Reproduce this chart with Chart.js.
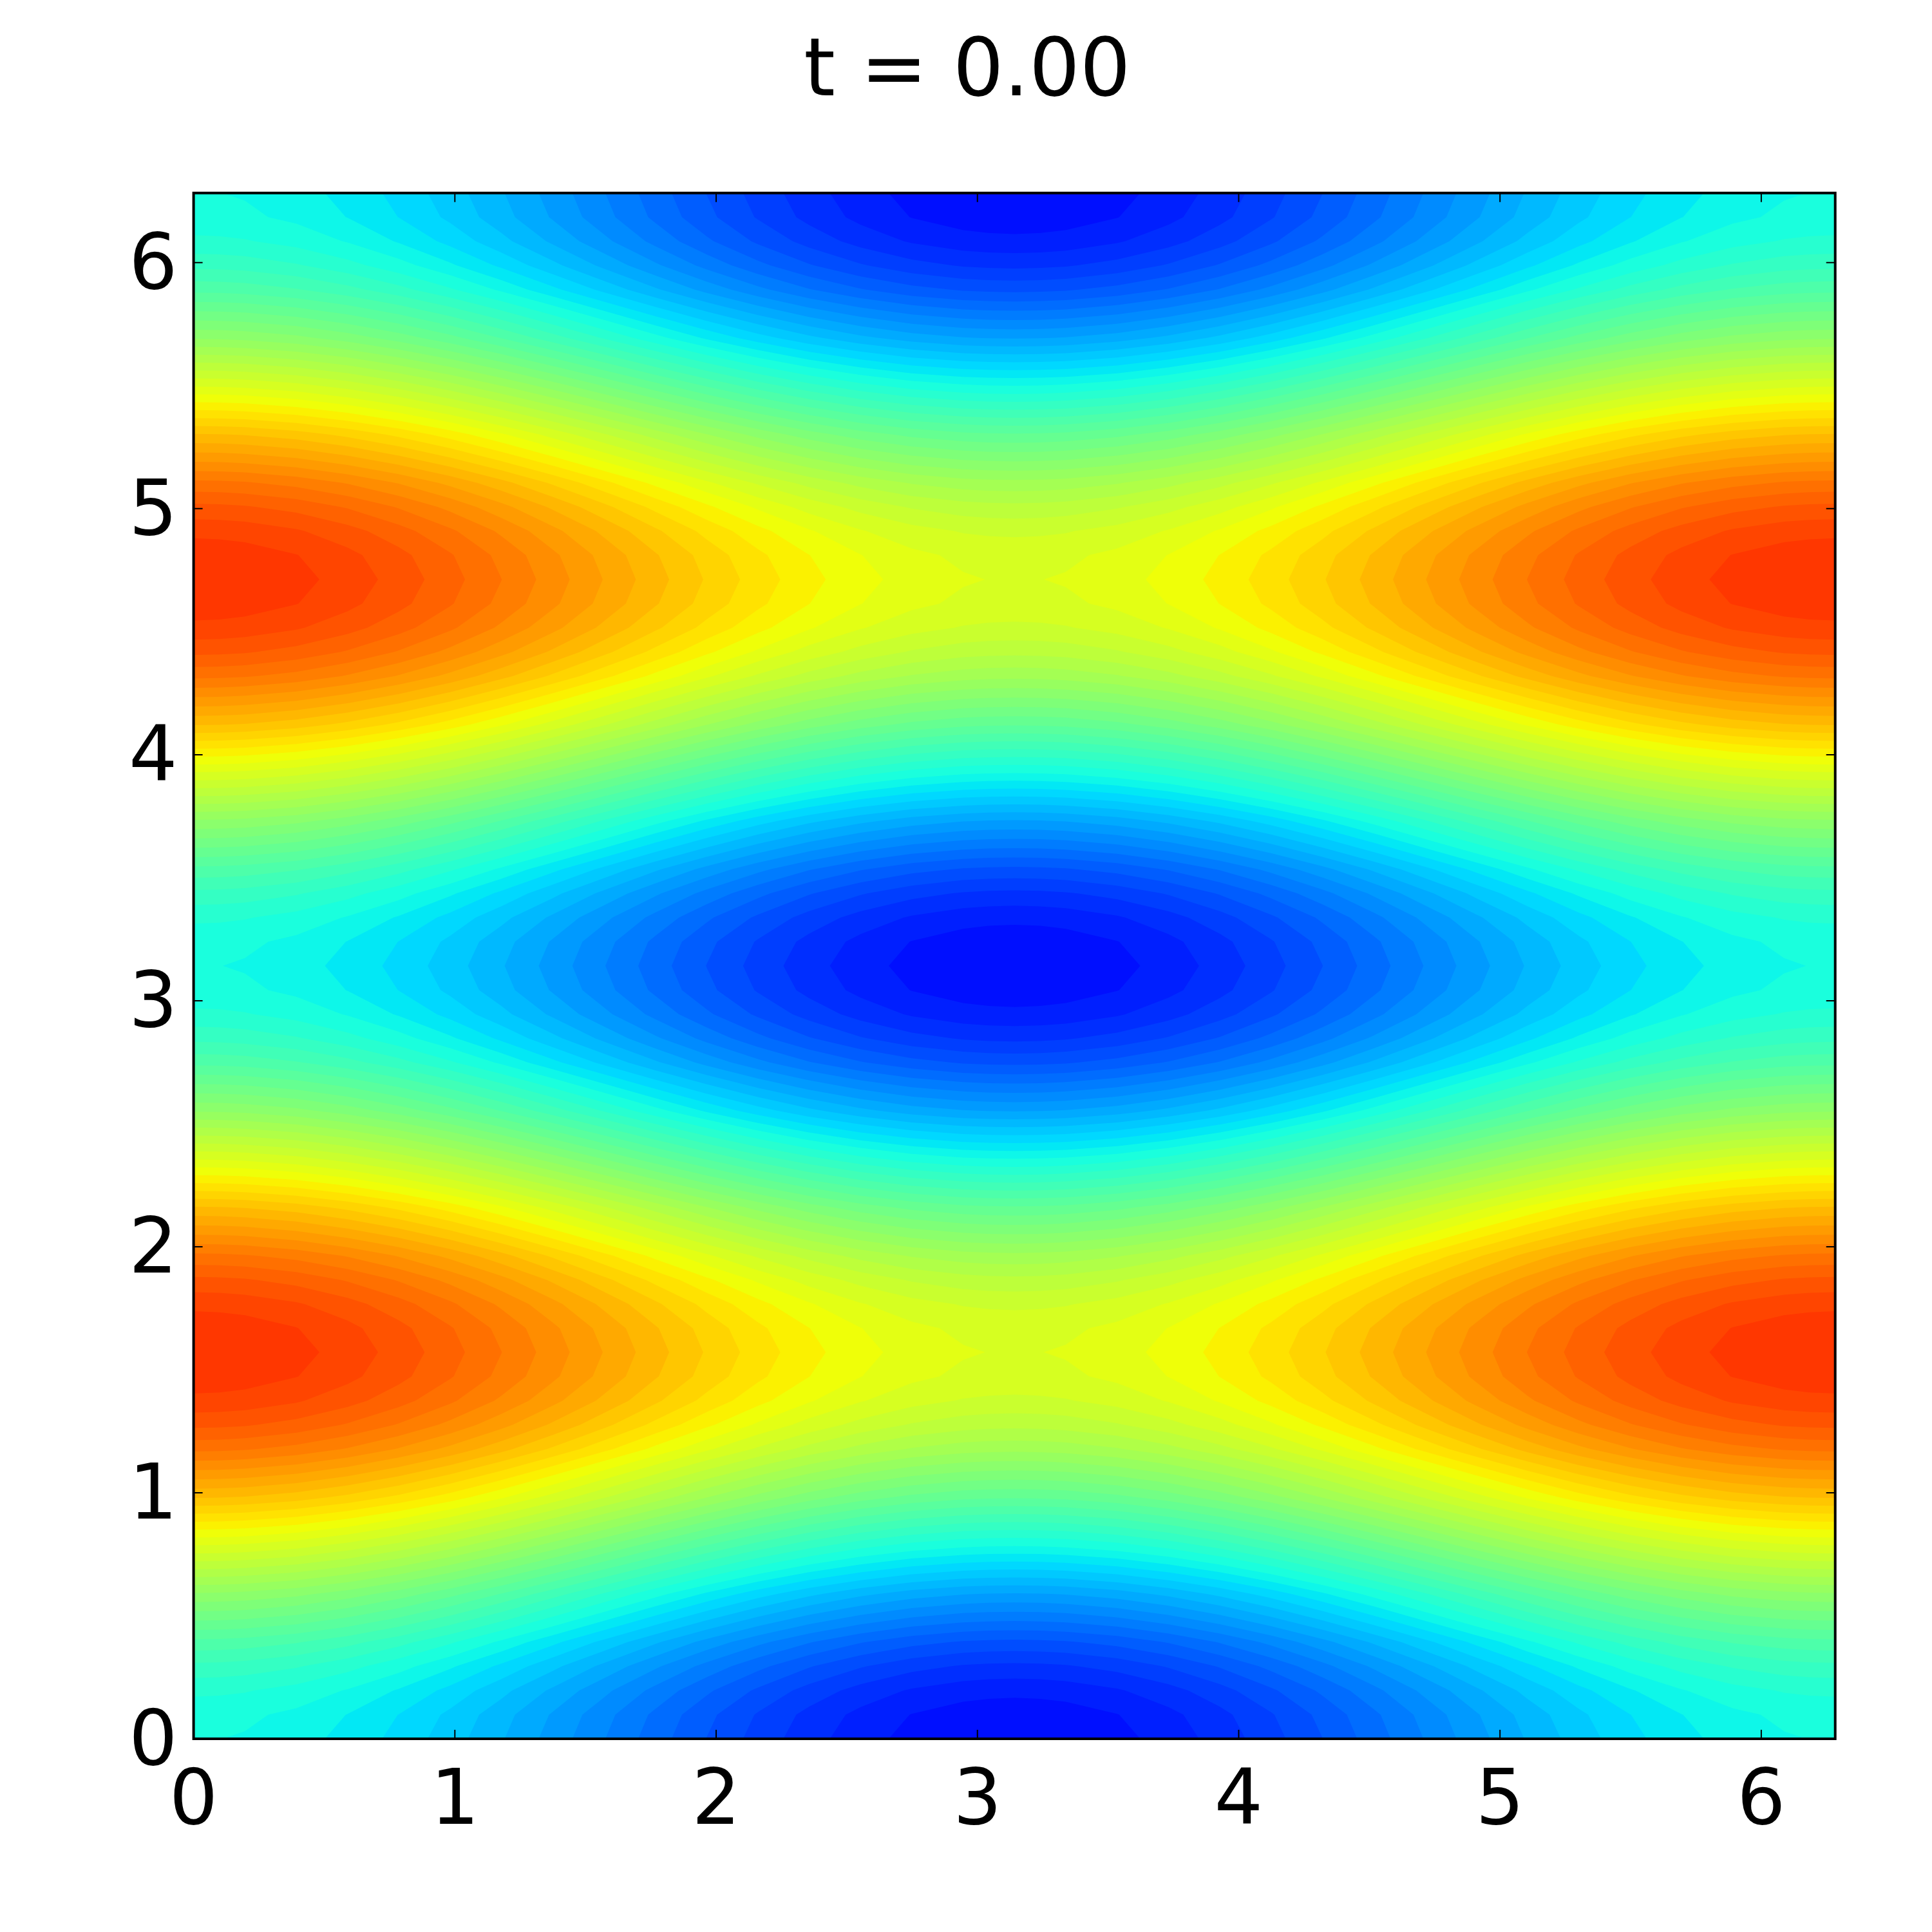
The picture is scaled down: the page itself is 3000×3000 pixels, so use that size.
<!DOCTYPE html>
<html>
<head>
<meta charset="utf-8">
<title>t = 0.00</title>
<script src="https://cdn.jsdelivr.net/npm/chart.js@4"></script>
<style>
  html, body { margin: 0; padding: 0; background: #fff; }
  canvas { display: block; }
</style>
</head>
<body>
<canvas id="grafico" width="3000" height="3000"></canvas>
<script>
const titleText = "t = 0.00";
const xTicks = [0, 1, 2, 3, 4, 5, 6];
const yTicks = [0, 1, 2, 3, 4, 5, 6];

const xNodes = [0, 0.098, 0.196, 0.393, 0.589, 0.785, 0.982, 1.178, 1.374, 1.571, 1.767, 1.963, 2.160, 2.356, 2.553, 2.749, 2.945, 3.043, 3.142, 3.240, 3.338, 3.534, 3.731, 3.927, 4.123, 4.320, 4.516, 4.712, 4.909, 5.105, 5.301, 5.498, 5.694, 5.890, 6.087, 6.185, 6.283];
const yNodes = [0, 0.098, 0.196, 0.295, 0.393, 0.589, 0.785, 0.982, 1.178, 1.276, 1.374, 1.473, 1.571, 1.669, 1.767, 1.865, 1.963, 2.160, 2.356, 2.553, 2.749, 2.847, 2.945, 3.043, 3.142, 3.240, 3.338, 3.436, 3.534, 3.731, 3.927, 4.123, 4.320, 4.418, 4.516, 4.614, 4.712, 4.811, 4.909, 5.007, 5.105, 5.301, 5.498, 5.694, 5.890, 5.989, 6.087, 6.185, 6.283];

// field values, one list per row of the grid
const row0 = [2, 1.995, 1.981, 1.924, 1.831, 1.707, 1.556, 1.383, 1.195, 1, 0.805, 0.617, 0.444, 0.293, 0.169, 0.076, 0.019, 0.005, 0, 0.005, 0.019, 0.076, 0.169, 0.293, 0.444, 0.617, 0.805, 1, 1.195, 1.383, 1.556, 1.707, 1.831, 1.924, 1.981, 1.995, 2];
const row1 = [2.038, 2.033, 2.019, 1.962, 1.869, 1.745, 1.594, 1.421, 1.233, 1.038, 0.843, 0.655, 0.482, 0.331, 0.207, 0.114, 0.057, 0.043, 0.038, 0.043, 0.057, 0.114, 0.207, 0.331, 0.482, 0.655, 0.843, 1.038, 1.233, 1.421, 1.594, 1.745, 1.869, 1.962, 2.019, 2.033, 2.038];
const row2 = [2.152, 2.147, 2.133, 2.076, 1.983, 1.859, 1.708, 1.535, 1.347, 1.152, 0.957, 0.769, 0.596, 0.445, 0.321, 0.228, 0.171, 0.157, 0.152, 0.157, 0.171, 0.228, 0.321, 0.445, 0.596, 0.769, 0.957, 1.152, 1.347, 1.535, 1.708, 1.859, 1.983, 2.076, 2.133, 2.147, 2.152];
const row3 = [2.337, 2.332, 2.318, 2.261, 2.168, 2.044, 1.893, 1.720, 1.532, 1.337, 1.142, 0.954, 0.781, 0.630, 0.506, 0.413, 0.356, 0.342, 0.337, 0.342, 0.356, 0.413, 0.506, 0.630, 0.781, 0.954, 1.142, 1.337, 1.532, 1.720, 1.893, 2.044, 2.168, 2.261, 2.318, 2.332, 2.337];
const row4 = [2.586, 2.581, 2.567, 2.510, 2.417, 2.293, 2.142, 1.969, 1.781, 1.586, 1.391, 1.203, 1.030, 0.879, 0.755, 0.662, 0.605, 0.591, 0.586, 0.591, 0.605, 0.662, 0.755, 0.879, 1.030, 1.203, 1.391, 1.586, 1.781, 1.969, 2.142, 2.293, 2.417, 2.510, 2.567, 2.581, 2.586];
const row6 = [3.235, 3.230, 3.216, 3.159, 3.066, 2.942, 2.791, 2.618, 2.430, 2.235, 2.040, 1.852, 1.679, 1.528, 1.404, 1.311, 1.254, 1.240, 1.235, 1.240, 1.254, 1.311, 1.404, 1.528, 1.679, 1.852, 2.040, 2.235, 2.430, 2.618, 2.791, 2.942, 3.066, 3.159, 3.216, 3.230, 3.235];
const row8 = [4, 3.995, 3.981, 3.924, 3.831, 3.707, 3.556, 3.383, 3.195, 3, 2.805, 2.617, 2.444, 2.293, 2.169, 2.076, 2.019, 2.005, 2, 2.005, 2.019, 2.076, 2.169, 2.293, 2.444, 2.617, 2.805, 3, 3.195, 3.383, 3.556, 3.707, 3.831, 3.924, 3.981, 3.995, 4];
const row10 = [4.765, 4.760, 4.746, 4.689, 4.596, 4.472, 4.321, 4.148, 3.960, 3.765, 3.570, 3.382, 3.209, 3.058, 2.934, 2.841, 2.784, 2.770, 2.765, 2.770, 2.784, 2.841, 2.934, 3.058, 3.209, 3.382, 3.570, 3.765, 3.960, 4.148, 4.321, 4.472, 4.596, 4.689, 4.746, 4.760, 4.765];
const row12 = [5.414, 5.409, 5.395, 5.338, 5.245, 5.121, 4.970, 4.797, 4.609, 4.414, 4.219, 4.031, 3.858, 3.707, 3.583, 3.490, 3.433, 3.419, 3.414, 3.419, 3.433, 3.490, 3.583, 3.707, 3.858, 4.031, 4.219, 4.414, 4.609, 4.797, 4.970, 5.121, 5.245, 5.338, 5.395, 5.409, 5.414];
const row13 = [5.663, 5.658, 5.644, 5.587, 5.494, 5.370, 5.219, 5.046, 4.858, 4.663, 4.468, 4.280, 4.107, 3.956, 3.832, 3.739, 3.682, 3.668, 3.663, 3.668, 3.682, 3.739, 3.832, 3.956, 4.107, 4.280, 4.468, 4.663, 4.858, 5.046, 5.219, 5.370, 5.494, 5.587, 5.644, 5.658, 5.663];
const row14 = [5.848, 5.843, 5.829, 5.772, 5.679, 5.555, 5.404, 5.231, 5.043, 4.848, 4.653, 4.465, 4.292, 4.141, 4.017, 3.924, 3.867, 3.853, 3.848, 3.853, 3.867, 3.924, 4.017, 4.141, 4.292, 4.465, 4.653, 4.848, 5.043, 5.231, 5.404, 5.555, 5.679, 5.772, 5.829, 5.843, 5.848];
const row15 = [5.962, 5.957, 5.943, 5.886, 5.793, 5.669, 5.518, 5.345, 5.157, 4.962, 4.767, 4.579, 4.406, 4.255, 4.131, 4.038, 3.981, 3.967, 3.962, 3.967, 3.981, 4.038, 4.131, 4.255, 4.406, 4.579, 4.767, 4.962, 5.157, 5.345, 5.518, 5.669, 5.793, 5.886, 5.943, 5.957, 5.962];
const row16 = [6, 5.995, 5.981, 5.924, 5.831, 5.707, 5.556, 5.383, 5.195, 5, 4.805, 4.617, 4.444, 4.293, 4.169, 4.076, 4.019, 4.005, 4, 4.005, 4.019, 4.076, 4.169, 4.293, 4.444, 4.617, 4.805, 5, 5.195, 5.383, 5.556, 5.707, 5.831, 5.924, 5.981, 5.995, 6];

// the picture repeats every half period in y, so rows are shared
const zRows = [
  row0, row1, row2, row3, row4, row6, row8, row10, row12, row13, row14, row15, row16,
  row15, row14, row13, row12, row10, row8, row6, row4, row3, row2, row1, row0,
  row1, row2, row3, row4, row6, row8, row10, row12, row13, row14, row15, row16,
  row15, row14, row13, row12, row10, row8, row6, row4, row3, row2, row1, row0
];

const levels = [0.118, 0.243, 0.369, 0.494, 0.619, 0.745, 0.870, 0.995, 1.120, 1.246, 1.371, 1.496, 1.622, 1.747, 1.872, 1.993, 2.123, 2.248, 2.373, 2.499, 2.624, 2.749, 2.875, 3.000, 3.125, 3.251, 3.376, 3.501, 3.626, 3.752, 3.877, 4.007, 4.128, 4.253, 4.378, 4.504, 4.629, 4.754, 4.879, 5.005, 5.130, 5.255, 5.381, 5.506, 5.631, 5.757, 5.882];

const levelStep = 0.1253;

// matplotlib jet
function tramo(puntos, v) {
  for (let i = 1; i < puntos.length; i++) {
    if (v <= puntos[i][0]) {
      const [a, b] = [puntos[i - 1], puntos[i]];
      return a[1] + (b[1] - a[1]) * (v - a[0]) / (b[0] - a[0]);
    }
  }
  return puntos[puntos.length - 1][1];
}
function jet(v) {
  const r = tramo([[0, 0], [0.35, 0], [0.66, 1], [0.89, 1], [1, 0.5]], v);
  const g = tramo([[0, 0], [0.125, 0], [0.375, 1], [0.64, 1], [0.91, 0], [1, 0]], v);
  const b = tramo([[0, 0.5], [0.11, 1], [0.34, 1], [0.65, 0], [1, 0]], v);
  return `rgb(${Math.round(r * 255)},${Math.round(g * 255)},${Math.round(b * 255)})`;
}
// colour of a band from its middle value
const bandColor = mid => jet(0.1334 + 0.1209 * mid);

// part of a quad where the value is at or above the level
function clipQuad(quad, level) {
  const out = [];
  for (let i = 0; i < quad.length; i++) {
    const a = quad[i];
    const b = quad[(i + 1) % quad.length];
    if (a.z >= level) out.push(a);
    if ((a.z >= level) !== (b.z >= level)) {
      const t = (level - a.z) / (b.z - a.z);
      out.push({ px: a.px + (b.px - a.px) * t, py: a.py + (b.py - a.py) * t, z: level });
    }
  }
  return out;
}

const contourPlugin = {
  id: "contour",
  beforeDatasetsDraw(chart) {
    const { ctx, scales, chartArea } = chart;
    const nodes = zRows.map((fila, j) => fila.map((z, i) => ({
      px: scales.x.getPixelForValue(xNodes[i]),
      py: scales.y.getPixelForValue(yNodes[j]),
      z
    })));
    ctx.save();
    ctx.beginPath();
    ctx.rect(chartArea.left, chartArea.top, chartArea.width, chartArea.height);
    ctx.clip();
    ctx.fillStyle = bandColor(levels[0] - levelStep / 2);
    ctx.fillRect(chartArea.left, chartArea.top, chartArea.width, chartArea.height);
    levels.forEach(level => {
      ctx.beginPath();
      for (let j = 0; j < nodes.length - 1; j++) {
        for (let i = 0; i < nodes[j].length - 1; i++) {
          const poly = clipQuad([nodes[j][i], nodes[j][i + 1], nodes[j + 1][i + 1], nodes[j + 1][i]], level);
          if (poly.length < 3) continue;
          ctx.moveTo(poly[0].px, poly[0].py);
          poly.slice(1).forEach(p => ctx.lineTo(p.px, p.py));
          ctx.closePath();
        }
      }
      ctx.fillStyle = bandColor(level + levelStep / 2);
      ctx.fill();
    });
    ctx.restore();
  }
};

// frame and inward ticks on all four sides
const framePlugin = {
  id: "frame",
  afterDraw(chart) {
    const { ctx, scales, chartArea: a } = chart;
    const largo = 14;
    ctx.save();
    ctx.strokeStyle = "#000";
    ctx.lineWidth = 2;
    ctx.beginPath();
    xTicks.forEach(v => {
      const x = scales.x.getPixelForValue(v);
      ctx.moveTo(x, a.bottom); ctx.lineTo(x, a.bottom - largo);
      ctx.moveTo(x, a.top); ctx.lineTo(x, a.top + largo);
    });
    yTicks.forEach(v => {
      const y = scales.y.getPixelForValue(v);
      ctx.moveTo(a.left, y); ctx.lineTo(a.left + largo, y);
      ctx.moveTo(a.right, y); ctx.lineTo(a.right - largo, y);
    });
    ctx.stroke();
    ctx.lineWidth = 4;
    ctx.strokeRect(a.left, a.top, a.width, a.height);
    ctx.restore();
  }
};

const puntos = [];
zRows.forEach((fila, j) => fila.forEach((z, i) => puntos.push({ x: xNodes[i], y: yNodes[j], z })));

new Chart(document.getElementById("grafico"), {
  type: "scatter",
  data: {
    datasets: [{
      label: "campo",
      data: puntos,
      pointRadius: 0,
      pointHoverRadius: 0
    }]
  },
  options: {
    responsive: false,
    animation: false,
    layout: { padding: { left: 4 } },
    plugins: {
      legend: { display: false },
      tooltip: { enabled: false },
      title: {
        display: true,
        text: titleText,
        color: "#000",
        font: { family: "'DejaVu Sans'", size: 124, weight: "normal", lineHeight: 1 },
        padding: { top: 54, bottom: 121.7 }
      }
    },
    scales: {
      x: {
        type: "linear",
        min: 0,
        max: 6.283,
        grid: { display: false, drawTicks: false },
        border: { display: false },
        afterBuildTicks: s => { s.ticks = xTicks.map(value => ({ value })); },
        afterFit: s => { s.height = 300; },
        ticks: {
          autoSkip: false,
          maxRotation: 0,
          padding: 30,
          color: "#000",
          font: { family: "'DejaVu Sans'", size: 119 }
        }
      },
      y: {
        type: "linear",
        min: 0,
        max: 6.283,
        grid: { display: false, drawTicks: false },
        border: { display: false },
        afterBuildTicks: s => { s.ticks = yTicks.map(value => ({ value })); },
        afterFit: s => { s.width = 296.6; },
        ticks: {
          autoSkip: false,
          padding: 25,
          labelOffset: 9,
          color: "#000",
          font: { family: "'DejaVu Sans'", size: 119 }
        }
      },
      // empty strip on the right, keeps the title centred on the page
      yRight: {
        type: "linear",
        axis: "y",
        position: "right",
        grid: { display: false, drawTicks: false },
        border: { display: false },
        ticks: { display: false },
        afterFit: s => { s.width = 150.3; }
      }
    }
  },
  plugins: [contourPlugin, framePlugin]
});
</script>
</body>
</html>
